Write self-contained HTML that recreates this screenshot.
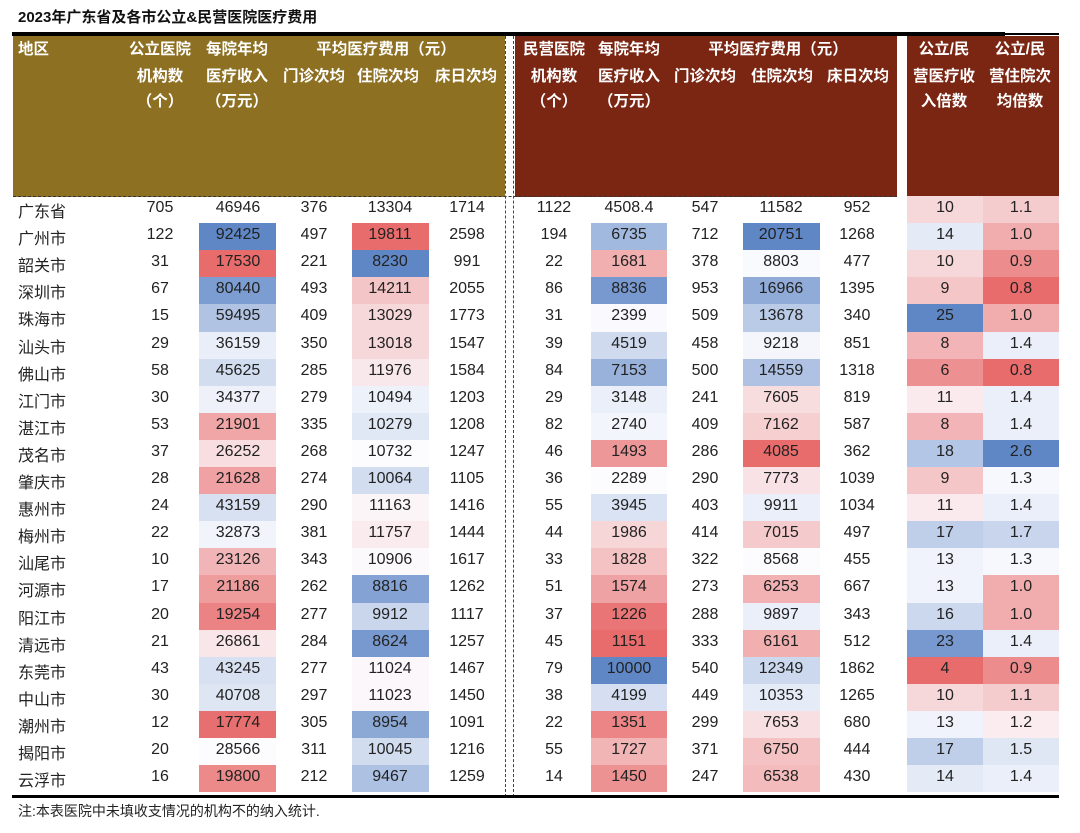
<!DOCTYPE html>
<html><head><meta charset="utf-8">
<style>
body{margin:0;width:1080px;height:833px;background:#fff;position:relative;overflow:hidden;font-family:"Liberation Sans","Noto Sans CJK SC",sans-serif;}
.a{position:absolute;}
.t{position:absolute;transform:translateX(-50%);white-space:nowrap;}
.h{color:#fff;font-weight:bold;font-size:15.5px;}
.d{font-size:16px;color:#222;}
</style></head><body>
<div class="a" style="left:18px;top:6px;font-size:15px;font-weight:bold;color:#111;">2023年广东省及各市公立&amp;民营医院医疗费用</div>
<div class="a" style="left:12px;top:32px;width:993px;height:4px;background:#000;"></div>
<div class="a" style="left:1005px;top:33px;width:54px;height:2px;background:#000;"></div>
<div class="a" style="left:13px;top:36px;width:492px;height:161px;background:#8E7023;"></div>
<div class="a" style="left:515px;top:36px;width:382px;height:161px;background:#7B2612;"></div>
<div class="a" style="left:907px;top:36px;width:152px;height:161px;background:#7B2612;"></div>
<div class="a" style="left:13px;top:196px;width:884px;border-top:1px dashed #333;"></div>
<div class="a" style="left:505px;top:36px;height:761px;border-left:1px dashed #444;"></div>
<div class="a" style="left:513px;top:36px;height:761px;border-left:1px dashed #444;"></div>
<div class="a" style="left:12px;top:795px;width:1047px;height:3px;background:#000;"></div>
<div class="a" style="left:18px;top:801px;font-size:14px;color:#222;">注:本表医院中未填收支情况的机构不的纳入统计.</div>
<div id="c"></div>
<script>
var c=document.getElementById('c'),h='';
function T(x,y,s,cl){h+='<div class="t '+cl+'" style="left:'+x+'px;top:'+y+'px">'+s+'</div>';}
h+='<div class="a h" style="left:18px;top:37px">地区</div>';
var L1=37,L2=64,L3=89;
T(160,L1,'公立医院','h');T(160,L2,'机构数','h');T(160,L3,'（个）','h');
T(237,L1,'每院年均','h');T(237,L2,'医疗收入','h');T(237,L3,'（万元）','h');
T(386,L1,'平均医疗费用（元）','h');T(314,L2,'门诊次均','h');T(388,L2,'住院次均','h');T(466,L2,'床日次均','h');
T(554,L1,'民营医院','h');T(554,L2,'机构数','h');T(554,L3,'（个）','h');
T(629,L1,'每院年均','h');T(629,L2,'医疗收入','h');T(629,L3,'（万元）','h');
T(778,L1,'平均医疗费用（元）','h');T(705,L2,'门诊次均','h');T(782,L2,'住院次均','h');T(858,L2,'床日次均','h');
T(944,L1,'公立/民','h');T(944,L2,'营医疗收','h');T(944,L3,'入倍数','h');
T(1020,L1,'公立/民','h');T(1020,L2,'营住院次','h');T(1020,L3,'均倍数','h');
var D=[
['广东省',705,46946,376,13304,1714,1122,'4508.4',547,11582,952,10,'1.1'],
['广州市',122,92425,497,19811,2598,194,6735,712,20751,1268,14,'1.0'],
['韶关市',31,17530,221,8230,991,22,1681,378,8803,477,10,'0.9'],
['深圳市',67,80440,493,14211,2055,86,8836,953,16966,1395,9,'0.8'],
['珠海市',15,59495,409,13029,1773,31,2399,509,13678,340,25,'1.0'],
['汕头市',29,36159,350,13018,1547,39,4519,458,9218,851,8,'1.4'],
['佛山市',58,45625,285,11976,1584,84,7153,500,14559,1318,6,'0.8'],
['江门市',30,34377,279,10494,1203,29,3148,241,7605,819,11,'1.4'],
['湛江市',53,21901,335,10279,1208,82,2740,409,7162,587,8,'1.4'],
['茂名市',37,26252,268,10732,1247,46,1493,286,4085,362,18,'2.6'],
['肇庆市',28,21628,274,10064,1105,36,2289,290,7773,1039,9,'1.3'],
['惠州市',24,43159,290,11163,1416,55,3945,403,9911,1034,11,'1.4'],
['梅州市',22,32873,381,11757,1444,44,1986,414,7015,497,17,'1.7'],
['汕尾市',10,23126,343,10906,1617,33,1828,322,8568,455,13,'1.3'],
['河源市',17,21186,262,8816,1262,51,1574,273,6253,667,13,'1.0'],
['阳江市',20,19254,277,9912,1117,37,1226,288,9897,343,16,'1.0'],
['清远市',21,26861,284,8624,1257,45,1151,333,6161,512,23,'1.4'],
['东莞市',43,43245,277,11024,1467,79,10000,540,12349,1862,4,'0.9'],
['中山市',30,40708,297,11023,1450,38,4199,449,10353,1265,10,'1.1'],
['潮州市',12,17774,305,8954,1091,22,1351,299,7653,680,13,'1.2'],
['揭阳市',20,28566,311,10045,1216,55,1727,371,6750,444,17,'1.5'],
['云浮市',16,19800,212,9467,1259,14,1450,247,6538,430,14,'1.4']];
var X=[0,160,238,314,390,467,554,629,705,781,857,945,1021];
var CC=[[2,199,77,false,false],[4,352,77,true,false],[7,591,76,false,false],[9,743,77,false,false],[11,907,76,false,true],[12,983,76,false,true]];
var R=[232,108,108],W=[252,252,255],B=[95,135,198];
function mix(a,b,t){return 'rgb('+a.map(function(v,i){return Math.round(v+(b[i]-v)*t)}).join(',')+')';}
var top0=196,rh=27.1;
CC.forEach(function(cc){
 var k=cc[0],vals=[];
 D.forEach(function(r,i){if(i>0||cc[4])vals.push(parseFloat(r[k]));});
 var s=vals.slice().sort(function(a,b){return a-b}),n=s.length,mn=s[0],mx=s[n-1];
 var md=n%2?s[(n-1)/2]:(s[n/2-1]+s[n/2])/2;
 D.forEach(function(r,i){ if(i==0&&!cc[4])return;
  var v=parseFloat(r[k]),col;
  if(v>=md){var t=mx>md?(v-md)/(mx-md):0;col=mix(W,cc[3]?R:B,t);}
  else{var t=(md-v)/(md-mn);col=mix(W,cc[3]?B:R,t);}
  var y=Math.round(top0+i*rh);
  h+='<div class="a" style="left:'+cc[1]+'px;top:'+y+'px;width:'+cc[2]+'px;height:'+(Math.round(top0+(i+1)*rh)-y)+'px;background:'+col+'"></div>';
 });
});
D.forEach(function(r,i){
 var y=Math.round(top0+i*rh)+3;
 h+='<div class="a d" style="left:18px;top:'+(y-1)+'px">'+r[0]+'</div>';
 for(var j=1;j<13;j++)T(X[j],y,r[j],'d');
});
c.innerHTML=h;
</script>
</body></html>
